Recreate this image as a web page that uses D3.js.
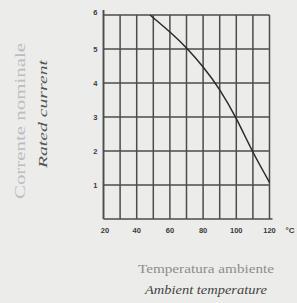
<!DOCTYPE html>
<html>
<head>
<meta charset="utf-8">
<script src="https://cdn.jsdelivr.net/npm/d3@7"></script>
<style>
  html, body { margin: 0; padding: 0; background: #ececea; }
  svg { display: block; }
</style>
</head>
<body>
<script>
(function(){

  //chart data
  var temps = [48, 60, 70, 80, 90, 100, 110, 120]; //ambient temperature, °C
  var current = [6, 5.5, 5.03, 4.47, 3.8, 2.95, 1.97, 1.08]; //rated current
  var xTicks = [20, 40, 60, 80, 100, 120];
  var yTicks = [1, 2, 3, 4, 5, 6];
  var xGrid = d3.range(20, 121, 10);
  var yGrid = d3.range(0, 7, 1);

  window.onload = drawChart();

  function drawChart(){
    var width = 297,
        height = 303;

    var svg = d3.select("body")
      .append("svg")
      .attr("width", width)
      .attr("height", height);

    var x = d3.scaleLinear() //temperature scale
      .domain([20, 120])
      .range([103.5, 269.5]);

    var y = d3.scaleLinear() //current scale
      .domain([0, 6])
      .range([219, 15]);

    var gridColor = "#4c4c4c";

    //vertical grid lines
    svg.selectAll(".vgrid")
      .data(xGrid)
      .enter()
      .append("line")
      .attr("class", "vgrid")
      .attr("x1", function(d){ return x(d); })
      .attr("x2", function(d){ return x(d); })
      .attr("y1", function(d){ return d == 20 ? y(6) - 5 : y(6); })
      .attr("y2", y(0))
      .attr("stroke", gridColor)
      .attr("stroke-width", function(d){ return d == 20 ? 1.9 : 1.5; });

    //horizontal grid lines
    svg.selectAll(".hgrid")
      .data(yGrid)
      .enter()
      .append("line")
      .attr("class", "hgrid")
      .attr("x1", x(20))
      .attr("x2", function(d){ return d == 0 ? x(120) + 3 : x(120); })
      .attr("y1", function(d){ return y(d); })
      .attr("y2", function(d){ return y(d); })
      .attr("stroke", gridColor)
      .attr("stroke-width", function(d){ return d == 0 ? 1.7 : 1.4; });

    //derating curve
    var line = d3.line()
      .x(function(d, i){ return x(temps[i]); })
      .y(function(d){ return y(d); })
      .curve(d3.curveNatural);

    svg.append("path")
      .datum(current)
      .attr("d", line)
      .attr("fill", "none")
      .attr("stroke", "#2a2a2a")
      .attr("stroke-width", 1.5);

    //x tick labels
    svg.selectAll(".xlab")
      .data(xTicks)
      .enter()
      .append("text")
      .attr("class", "xlab")
      .attr("x", function(d){ return x(d) + (d == 20 ? 1.5 : 0); })
      .attr("y", 233)
      .attr("text-anchor", "middle")
      .style("font", "bold 7.5px 'Liberation Sans', sans-serif")
      .style("fill", "#3a3a3a")
      .text(function(d){ return d; });

    svg.append("text")
      .attr("x", 290)
      .attr("y", 233)
      .attr("text-anchor", "middle")
      .style("font", "bold 8px 'Liberation Sans', sans-serif")
      .style("fill", "#3a3a3a")
      .text("°C");

    //y tick labels
    svg.selectAll(".ylab")
      .data(yTicks)
      .enter()
      .append("text")
      .attr("class", "ylab")
      .attr("x", 97.5)
      .attr("y", function(d){ return y(d) + (d == 6 ? 0 : 2.5); })
      .attr("text-anchor", "end")
      .style("font", "bold 7.5px 'Liberation Sans', sans-serif")
      .style("fill", "#3a3a3a")
      .text(function(d){ return d; });

    //axis titles
    svg.append("text")
      .attr("transform", "translate(25,121) rotate(-90)")
      .attr("text-anchor", "middle")
      .attr("textLength", 156)
      .attr("lengthAdjust", "spacingAndGlyphs")
      .style("font", "14px 'Liberation Serif', serif")
      .style("fill", "#bdbdbd")
      .text("Corrente nominale");

    svg.append("text")
      .attr("transform", "translate(47,114) rotate(-90)")
      .attr("text-anchor", "middle")
      .attr("textLength", 108)
      .attr("lengthAdjust", "spacingAndGlyphs")
      .style("font", "italic 13px 'Liberation Serif', serif")
      .style("fill", "#555")
      .text("Rated current");

    svg.append("text")
      .attr("x", 206)
      .attr("y", 273)
      .attr("text-anchor", "middle")
      .attr("textLength", 136)
      .attr("lengthAdjust", "spacingAndGlyphs")
      .style("font", "13px 'Liberation Serif', serif")
      .style("fill", "#8e8e8e")
      .text("Temperatura ambiente");

    svg.append("text")
      .attr("x", 206)
      .attr("y", 294)
      .attr("text-anchor", "middle")
      .attr("textLength", 122)
      .attr("lengthAdjust", "spacingAndGlyphs")
      .style("font", "italic 13px 'Liberation Serif', serif")
      .style("fill", "#444")
      .text("Ambient temperature");
  };
})();
</script>
</body>
</html>
